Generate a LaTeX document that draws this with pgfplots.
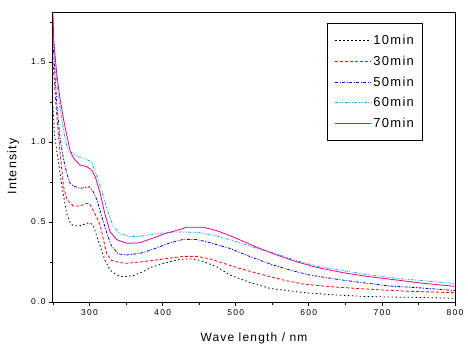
\documentclass[border=0pt]{standalone}
\usepackage{fontspec}
\setmainfont{Liberation Sans}
\newfontfamily\tickfont[LetterSpace=15]{Liberation Sans}
\newfontfamily\labfont[LetterSpace=10]{Liberation Sans}
\usepackage{pgfplots}
\pgfplotsset{compat=1.18}
\begin{document}
\begin{tikzpicture}
\begin{axis}[
  width=402bp, height=289bp, scale only axis,
  xmin=250, xmax=800, ymin=0, ymax=1.806,
  xtick={300,400,...,800}, minor xtick={250,350,...,750},
  ytick={0,0.5,1,1.5}, minor ytick={0.25,0.75,1.25,1.75},
  tick align=outside, tick pos=left,
  major tick length=4bp, minor tick length=2.5bp,
  axis line style={line width=1bp},
  every tick/.style={line width=0.8bp, black},
  /pgf/number format/assume math mode=true,
  ticklabel style={font=\fontsize{8.5}{10}\tickfont},
  yticklabel style={/pgf/number format/.cd, fixed, fixed zerofill, precision=1},
  xticklabel style={/pgf/number format/.cd, fixed, precision=0},
  xlabel={Wave length / nm}, ylabel={Intensity},
  xlabel style={font=\fontsize{12}{14}\labfont, at={(axis description cs:0.5,-0.126)}, anchor=center},
  ylabel style={font=\fontsize{12.5}{14}\labfont, at={(axis description cs:-0.099,0.469)}, anchor=center},
  legend style={at={(axis description cs:0.682,0.966)}, anchor=north west, draw=black, line width=1bp,
    font=\fontsize{13}{15}\labfont, inner xsep=7bp, inner ysep=10bp, row sep=5.8bp},
  legend cell align=left,
  legend image code/.code={\draw[#1] (0bp,0bp) -- (36bp,0bp);},
]
% 10 min
\addplot[black, line width=0.8bp, dash pattern=on 1.5bp off 2.5bp] coordinates {
(250,1.22)(252,1.05)(255,0.95)(258,0.86)(261,0.76)(265,0.65)(269,0.55)(274,0.49)(278,0.477)(287,0.477)(300,0.496)(305,0.48)(310,0.41)(314.5,0.35)(321,0.26)(328,0.20)(337,0.169)(346,0.158)(360,0.165)(378,0.2)(383,0.215)(400,0.24)(410,0.252)(424,0.267)(438,0.269)(451,0.26)(456,0.252)(474,0.22)(492,0.169)(520,0.121)(547,0.085)(574,0.069)(601,0.056)(638,0.044)(674,0.035)(710,0.031)(747,0.029)(800,0.023)};
\addlegendentry{10min}
% 30 min
\addplot[red, line width=0.8bp, dash pattern=on 3bp off 2bp] coordinates {
(250,1.50)(253,1.30)(256,1.12)(260,0.92)(264.5,0.72)(269,0.64)(273.6,0.62)(278,0.60)(287,0.60)(296,0.617)(300,0.615)(307.7,0.55)(314.5,0.48)(319,0.39)(323.7,0.30)(330,0.26)(342,0.246)(351,0.242)(369,0.25)(387,0.26)(414.5,0.277)(429,0.285)(447,0.285)(465,0.269)(483,0.242)(510,0.204)(538,0.169)(565,0.1375)(592,0.1125)(629,0.096)(665,0.085)(701,0.075)(738,0.067)(800,0.058)};
\addlegendentry{30min}
% 50 min
\addplot[blue, line width=0.8bp, dash pattern=on 3bp off 1.5bp on 1bp off 1.5bp] coordinates {
(250,1.62)(253,1.40)(255.5,1.22)(260,1.01)(264.5,0.89)(269,0.80)(273.6,0.74)(278,0.725)(287,0.71)(300,0.72)(305,0.69)(310,0.64)(317,0.53)(323.7,0.43)(330,0.35)(339.5,0.30)(351,0.294)(369,0.304)(387,0.33)(410,0.37)(429,0.392)(447,0.39)(465,0.371)(492,0.335)(520,0.283)(547,0.2375)(574,0.2)(601,0.169)(638,0.142)(674,0.121)(710,0.1)(747,0.09)(800,0.072)};
\addlegendentry{50min}
% 60 min
\addplot[cyan, line width=0.8bp, dash pattern=on 3bp off 1.5bp on 1bp off 1.5bp on 1bp off 1.5bp] coordinates {
(250,1.70)(253,1.50)(255.5,1.37)(260,1.2)(264.5,1.075)(269,0.97)(273.6,0.94)(282.7,0.91)(291.8,0.90)(301,0.88)(305,0.85)(312,0.76)(319,0.66)(326,0.55)(333,0.47)(342,0.425)(355.5,0.41)(369,0.41)(387,0.425)(414,0.437)(429,0.4375)(447,0.435)(474,0.4125)(501,0.377)(529,0.335)(556,0.3)(583,0.258)(610,0.225)(647,0.196)(683,0.169)(720,0.148)(756,0.133)(800,0.115)};
\addlegendentry{60min}
% 70 min
\addplot[magenta, line width=0.8bp] coordinates {
(250,1.80)(251,1.64)(253,1.53)(255.5,1.41)(260,1.26)(264.5,1.14)(269,1.04)(273.6,0.94)(278,0.90)(287,0.856)(296,0.846)(303,0.825)(308,0.78)(314.5,0.68)(321,0.55)(328,0.44)(337,0.39)(351,0.367)(369,0.37)(387,0.40)(405.5,0.43)(424,0.454)(433,0.467)(456,0.467)(474,0.446)(501,0.398)(529,0.342)(556,0.294)(583,0.252)(610,0.217)(647,0.183)(683,0.158)(720,0.1375)(756,0.117)(800,0.098)};
\addlegendentry{70min}
\end{axis}
\pgfresetboundingbox
\useasboundingbox ([shift={(-53bp,-53bp)}]current axis.south west) rectangle ([shift={(13bp,13bp)}]current axis.north east);
\end{tikzpicture}
\end{document}
